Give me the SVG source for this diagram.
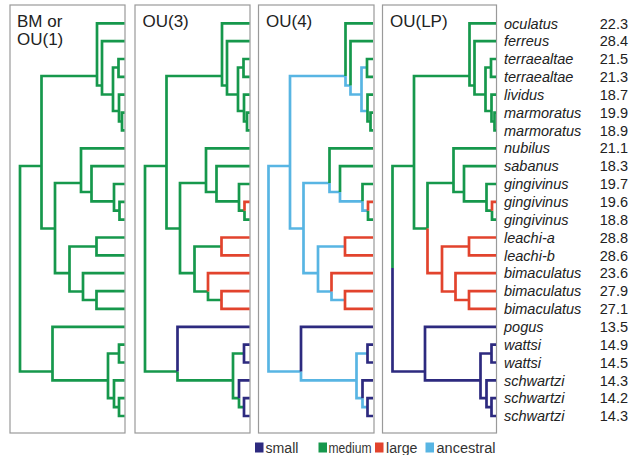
<svg xmlns="http://www.w3.org/2000/svg" width="634" height="455" viewBox="0 0 634 455">
<style>
.frame{fill:none;stroke:#9a9a9a;stroke-width:1.2}
.br path{fill:none;stroke-width:2.7;stroke-linecap:butt;stroke-linejoin:miter}
.g{stroke:#16984c}.n{stroke:#2d2a7f}.r{stroke:#e2432d}.b{stroke:#58b5e3}
.pl{font-family:"Liberation Sans",Arial,sans-serif;font-size:17px;fill:#222}
.sp{font-family:"Liberation Sans",Arial,sans-serif;font-size:14.5px;font-style:italic;fill:#222}
.val{font-family:"Liberation Sans",Arial,sans-serif;font-size:14.5px;fill:#222;text-anchor:end}
.lg{font-family:"Liberation Sans",Arial,sans-serif;font-size:14px;fill:#333}
</style>
<rect width="634" height="455" fill="#fff"/>

<!-- Panel 1: BM or OU(1) -->
<g id="panel-bm" transform="translate(10,0)">
<rect class="frame" x="0" y="5" width="115" height="428"/>
<text class="pl" x="7" y="27">BM or</text>
<text class="pl" x="7" y="44.5">OU(1)</text>
<g class="br" id="panel-bm-branches">
<path class="g" d="M10 268V166H31.5M10 268V371.5H42.5M31.5 166V76H87M31.5 166V228.5H45M87 76V23.3H114.5M87 76V85.5H92M92 85.5V41.2H114.5M92 85.5V94.5H103M103 94.5V67.5H108.5M103 94.5V111H109M108.5 67.5V59H114.5M108.5 67.5V76.9H114.5M109 111V94.7H114.5M109 111V121.5H112M112 121.5V112.6H114.5M112 121.5V130.4H114.5M45 228.5V183H71M45 228.5V273.2H59.5M71 183V148.3H114.5M71 183V192H81.5M81.5 192V166.1H114.5M81.5 192V201.3H104M104 201.3V184H114.5M104 201.3V210.7H109.5M109.5 210.7V201.8H114.5M109.5 210.7V219.7H114.5M59.5 273.2V246.5H86.5M59.5 273.2V291.5H73M86.5 246.5V237.5H114.5M86.5 246.5V255.4H114.5M73 291.5V273.2H114.5M73 291.5V300H86.5M86.5 300V291.1H114.5M86.5 300V308.9H114.5M42.5 371.5V326.8H114.5M42.5 371.5V380.3H98M98 380.3V353.5H109M98 380.3V398.2H104M109 353.5V344.6H114.5M109 353.5V362.5H114.5M104 398.2V380.3H114.5M104 398.2V407.1H109M109 407.1V398.2H114.5M109 407.1V416H114.5"/>
</g>
</g>

<!-- Panel 2: OU(3) -->
<g id="panel-ou3" transform="translate(135,0)">
<rect class="frame" x="0" y="5" width="115" height="428"/>
<text class="pl" x="7.5" y="27">OU(3)</text>
<g class="br" id="panel-ou3-branches">
<path class="g" d="M10 268V166H31.5M10 268V371.5H42.5M31.5 166V76H87M31.5 166V228.5H45M87 76V23.3H114.5M87 76V85.5H92M92 85.5V41.2H114.5M92 85.5V94.5H103M103 94.5V67.5H108.5M103 94.5V111H109M108.5 67.5V59H114.5M108.5 67.5V76.9H114.5M109 111V94.7H114.5M109 111V121.5H112M112 121.5V112.6H114.5M112 121.5V130.4H114.5M45 228.5V183H71M45 228.5V273.2H59.5M71 183V148.3H114.5M71 183V192H81.5M81.5 192V166.1H114.5M81.5 192V201.3H104M104 201.3V184H114.5M104 201.3V210.7H109.5M109.5 210.7V219.7H114.5M59.5 273.2V246.5H86.5M59.5 273.2V291.5H73M73 291.5V300H86.5M42.5 371.5V380.3H98M98 380.3V353.5H109M98 380.3V398.2H104M104 398.2V407.1H109"/>
<path class="r" d="M109.5 210.7V201.8H114.5M86.5 246.5V237.5H114.5M86.5 246.5V255.4H114.5M73 291.5V273.2H114.5M86.5 300V291.1H114.5M86.5 300V308.9H114.5"/>
<path class="n" d="M42.5 371.5V326.8H114.5M109 353.5V344.6H114.5M109 353.5V362.5H114.5M104 398.2V380.3H114.5M109 407.1V398.2H114.5M109 407.1V416H114.5"/>
</g>
</g>

<!-- Panel 3: OU(4) -->
<g id="panel-ou4" transform="translate(258.5,0)">
<rect class="frame" x="0" y="5" width="115.5" height="428"/>
<text class="pl" x="7.5" y="27">OU(4)</text>
<g class="br" id="panel-ou4-branches">
<path class="b" d="M10 268V166H31.5M10 268V371.5H42.5M31.5 166V76H87M31.5 166V228.5H45M87 76V85.5H92M92 85.5V94.5H103M103 94.5V67.5H108.5M103 94.5V111H109M45 228.5V183H71M45 228.5V273.2H59.5M71 183V192H81.5M81.5 192V201.3H104M104 201.3V210.7H109.5M59.5 273.2V246.5H86.5M59.5 273.2V291.5H73M73 291.5V300H86.5M42.5 371.5V380.3H98M98 380.3V353.5H109M98 380.3V398.2H104M104 398.2V407.1H109"/>
<path class="g" d="M87 76V23.3H114.5M92 85.5V41.2H114.5M108.5 67.5V59H114.5M108.5 67.5V76.9H114.5M109 111V94.7H114.5M109 111V121.5H112M112 121.5V112.6H114.5M112 121.5V130.4H114.5M71 183V148.3H114.5M81.5 192V166.1H114.5M104 201.3V184H114.5M109.5 210.7V219.7H114.5"/>
<path class="r" d="M109.5 210.7V201.8H114.5M86.5 246.5V237.5H114.5M86.5 246.5V255.4H114.5M73 291.5V273.2H114.5M86.5 300V291.1H114.5M86.5 300V308.9H114.5"/>
<path class="n" d="M42.5 371.5V326.8H114.5M109 353.5V344.6H114.5M109 353.5V362.5H114.5M104 398.2V380.3H114.5M109 407.1V398.2H114.5M109 407.1V416H114.5"/>
</g>
</g>

<!-- Panel 4: OU(LP) -->
<g id="panel-oulp" transform="translate(382.5,0)">
<rect class="frame" x="0" y="5" width="114" height="428"/>
<text class="pl" x="7.5" y="27">OU(LP)</text>
<g class="br" id="panel-oulp-branches">
<path class="g" d="M10 268V166H31.5M31.5 166V76H87M31.5 166V228.5H45M87 76V23.3H113.5M87 76V85.5H92M92 85.5V41.2H113.5M92 85.5V94.5H103M103 94.5V67.5H108.5M103 94.5V111H109M108.5 67.5V59H113.5M108.5 67.5V76.9H113.5M109 111V94.7H113.5M109 111V121.5H112M112 121.5V112.6H113.5M112 121.5V130.4H113.5M45 228.5V183H71M71 183V148.3H113.5M71 183V192H81.5M81.5 192V166.1H113.5M81.5 192V201.3H104M104 201.3V184H113.5M104 201.3V210.7H109.5M109.5 210.7V219.7H113.5"/>
<path class="r" d="M109.5 210.7V201.8H113.5M45 228.5V273.2H59.5M59.5 273.2V246.5H86.5M59.5 273.2V291.5H73M86.5 246.5V237.5H113.5M86.5 246.5V255.4H113.5M73 291.5V273.2H113.5M73 291.5V300H86.5M86.5 300V291.1H113.5M86.5 300V308.9H113.5"/>
<path class="n" d="M10 268V371.5H42.5M42.5 371.5V326.8H113.5M42.5 371.5V380.3H98M98 380.3V353.5H109M98 380.3V398.2H104M109 353.5V344.6H113.5M109 353.5V362.5H113.5M104 398.2V380.3H113.5M104 398.2V407.1H109M109 407.1V398.2H113.5M109 407.1V416H113.5"/>
</g>
</g>

<!-- Taxon labels and values -->
<g id="labels">
<g id="row-0"><text class="sp" x="504" y="28.5">oculatus</text><text class="val" x="628" y="28.5">22.3</text></g>
<g id="row-1"><text class="sp" x="504" y="46.3">ferreus</text><text class="val" x="628" y="46.3">28.4</text></g>
<g id="row-2"><text class="sp" x="504" y="64.2">terraealtae</text><text class="val" x="628" y="64.2">21.5</text></g>
<g id="row-3"><text class="sp" x="504" y="82">terraealtae</text><text class="val" x="628" y="82">21.3</text></g>
<g id="row-4"><text class="sp" x="504" y="99.9">lividus</text><text class="val" x="628" y="99.9">18.7</text></g>
<g id="row-5"><text class="sp" x="504" y="117.7">marmoratus</text><text class="val" x="628" y="117.7">19.9</text></g>
<g id="row-6"><text class="sp" x="504" y="135.6">marmoratus</text><text class="val" x="628" y="135.6">18.9</text></g>
<g id="row-7"><text class="sp" x="504" y="153.4">nubilus</text><text class="val" x="628" y="153.4">21.1</text></g>
<g id="row-8"><text class="sp" x="504" y="171.3">sabanus</text><text class="val" x="628" y="171.3">18.3</text></g>
<g id="row-9"><text class="sp" x="504" y="189.1">gingivinus</text><text class="val" x="628" y="189.1">19.7</text></g>
<g id="row-10"><text class="sp" x="504" y="207">gingivinus</text><text class="val" x="628" y="207">19.6</text></g>
<g id="row-11"><text class="sp" x="504" y="224.8">gingivinus</text><text class="val" x="628" y="224.8">18.8</text></g>
<g id="row-12"><text class="sp" x="504" y="242.7">leachi-a</text><text class="val" x="628" y="242.7">28.8</text></g>
<g id="row-13"><text class="sp" x="504" y="260.5">leachi-b</text><text class="val" x="628" y="260.5">28.6</text></g>
<g id="row-14"><text class="sp" x="504" y="278.4">bimaculatus</text><text class="val" x="628" y="278.4">23.6</text></g>
<g id="row-15"><text class="sp" x="504" y="296.2">bimaculatus</text><text class="val" x="628" y="296.2">27.9</text></g>
<g id="row-16"><text class="sp" x="504" y="314.1">bimaculatus</text><text class="val" x="628" y="314.1">27.1</text></g>
<g id="row-17"><text class="sp" x="504" y="331.9">pogus</text><text class="val" x="628" y="331.9">13.5</text></g>
<g id="row-18"><text class="sp" x="504" y="349.8">wattsi</text><text class="val" x="628" y="349.8">14.9</text></g>
<g id="row-19"><text class="sp" x="504" y="367.6">wattsi</text><text class="val" x="628" y="367.6">14.5</text></g>
<g id="row-20"><text class="sp" x="504" y="385.5">schwartzi</text><text class="val" x="628" y="385.5">14.3</text></g>
<g id="row-21"><text class="sp" x="504" y="403.3">schwartzi</text><text class="val" x="628" y="403.3">14.2</text></g>
<g id="row-22"><text class="sp" x="504" y="421.2">schwartzi</text><text class="val" x="628" y="421.2">14.3</text></g>
</g>

<!-- Legend -->
<g id="legend">
<rect x="255" y="442.5" width="8.5" height="10" fill="#2d2a7f"/>
<text class="lg" x="265.5" y="452.5" textLength="33" lengthAdjust="spacingAndGlyphs">small</text>
<rect x="318.5" y="442.5" width="8.5" height="10" fill="#16984c"/>
<text class="lg" x="328.5" y="452.5" textLength="43" lengthAdjust="spacingAndGlyphs">medium</text>
<rect x="375" y="442.5" width="8.5" height="10" fill="#e2432d"/>
<text class="lg" x="386" y="452.5" textLength="31.5" lengthAdjust="spacingAndGlyphs">large</text>
<rect x="425.5" y="442.5" width="8.5" height="10" fill="#58b5e3"/>
<text class="lg" x="436.5" y="452.5" textLength="59" lengthAdjust="spacingAndGlyphs">ancestral</text>
</g>
</svg>
